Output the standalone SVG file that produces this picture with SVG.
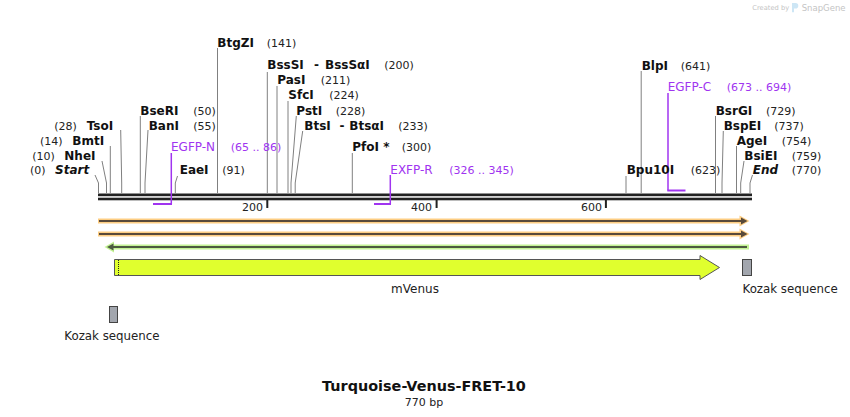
<svg xmlns="http://www.w3.org/2000/svg" width="850" height="417" viewBox="0 0 850 417">
<style>
text{font-family:"DejaVu Sans",Verdana,sans-serif;}
.en{font-size:12px;font-weight:bold;fill:#111;}
.it{font-style:italic;}
.num{font-size:11px;fill:#222;}
.pr{font-size:12px;fill:#a034f0;}
.prn{font-size:11px;fill:#a034f0;}
.cut{stroke:#808080;stroke-width:1;fill:none;}
.pline{stroke:#a034f0;fill:none;}
.lbl{font-size:12px;fill:#222;}
.bb{fill:#222;}
</style>
<rect width="850" height="417" fill="#fff"/>
<g id="watermark">
<text x="752.3" y="10" style="font-size:6.7px;fill:#c4c4c4">Created by</text>
<path d="M792,3 h3.5 a2.8,2.8 0 0 1 0,5.6 h-1.5 v3.6 h-2 z" fill="#cde6f5"/>
<text x="801.7" y="10.5" style="font-size:8.5px;fill:#c4c4c4">SnapGene</text>
</g>
<g id="backbone">
<rect class="bb" x="98" y="193.5" width="654" height="2.7"/>
<rect class="bb" x="98" y="197.7" width="654" height="2.6"/>
<rect class="bb" x="266.3" y="200" width="2" height="8"/>
<rect class="bb" x="435.6" y="200" width="2" height="8"/>
<rect class="bb" x="604.9" y="200" width="2" height="8"/>
<text class="num" x="263" y="210.5" text-anchor="end">200</text>
<text class="num" x="432" y="210.5" text-anchor="end">400</text>
<text class="num" x="602" y="210.5" text-anchor="end">600</text>
</g>
<g id="connectors">
<polyline class="cut" points="95,175 98.5,183 98.5,193"/>
<polyline class="cut" points="102,161 106.5,183 106.5,193"/>
<polyline class="cut" points="110.3,146 110.3,193"/>
<polyline class="cut" points="120.7,130 121.7,183 121.7,193"/>
<polyline class="cut" points="140.3,116 140.3,193"/>
<polyline class="cut" points="148,130 145,183 145,193"/>
<polyline class="cut" points="177.5,176 175.3,183 175.3,193"/>
<polyline class="cut" points="217.5,48 217.5,193"/>
<polyline class="cut" points="267.3,72 267.3,193"/>
<polyline class="cut" points="277,86 277,193"/>
<polyline class="cut" points="288,101 288,193"/>
<polyline class="cut" points="296.3,116 291,183 291,193"/>
<polyline class="cut" points="302.7,131 295.2,183 295.2,193"/>
<polyline class="cut" points="352.3,153 352.3,193"/>
<polyline class="cut" points="626,176 626,193"/>
<polyline class="cut" points="641.2,71 641.2,193"/>
<polyline class="cut" points="715.5,116 715.5,193"/>
<polyline class="cut" points="723.3,131 722,183 722,193"/>
<polyline class="cut" points="736.5,146 736.5,193"/>
<polyline class="cut" points="744,161 740.7,183 740.7,193"/>
<polyline class="cut" points="752.5,175 750,183 750,193"/>
<polyline class="pline" stroke-width="1.5" points="171.3,153 171.3,204"/>
<line class="pline" stroke-width="2" x1="153" y1="204" x2="172" y2="204"/>
<polyline class="pline" stroke-width="1.5" points="390.3,175 390.3,204"/>
<line class="pline" stroke-width="2" x1="374" y1="204" x2="391" y2="204"/>
<polyline class="pline" stroke-width="1.5" points="668,93 668,190.5"/>
<line class="pline" stroke-width="2" x1="667.3" y1="190.5" x2="685.5" y2="190.5"/>
</g>
<g id="site-labels">
<text class="num" x="30" y="174">(0)</text><text class="en it" x="55" y="174">Start</text>
<text class="num" x="32.3" y="159.5">(10)</text><text class="en" x="64.3" y="159.5">NheI</text>
<text class="num" x="40" y="144.5">(14)</text><text class="en" x="72.3" y="144.5">BmtI</text>
<text class="num" x="54.3" y="129.5">(28)</text><text class="en" x="86.7" y="129.5">TsoI</text>
<text class="en" x="140.3" y="114.5">BseRI</text><text class="num" x="193.3" y="114.5">(50)</text>
<text class="en" x="148.7" y="129.5">BanI</text><text class="num" x="193.3" y="129.5">(55)</text>
<text class="en" x="179.7" y="174">EaeI</text><text class="num" x="222.3" y="174">(91)</text>
<text class="en" x="217.3" y="46.5">BtgZI</text><text class="num" x="266.7" y="46.5">(141)</text>
<text class="en" x="267.3" y="69">BssSI</text><text class="en" x="314" y="69">-</text><text class="en" x="325" y="69">BssSαI</text><text class="num" x="384.3" y="69">(200)</text>
<text class="en" x="277.3" y="84">PasI</text><text class="num" x="320.7" y="84">(211)</text>
<text class="en" x="288.3" y="99">SfcI</text><text class="num" x="329.3" y="99">(224)</text>
<text class="en" x="296.3" y="114.5">PstI</text><text class="num" x="335.7" y="114.5">(228)</text>
<text class="en" x="304.3" y="129.5">BtsI</text><text class="en" x="339.5" y="129.5">-</text><text class="en" x="349.3" y="129.5">BtsαI</text><text class="num" x="398.3" y="129.5">(233)</text>
<text class="en" x="352.3" y="151">PfoI *</text><text class="num" x="401.7" y="151">(300)</text>
<text class="en" x="626.7" y="174">Bpu10I</text><text class="num" x="690.7" y="174">(623)</text>
<text class="en" x="641.7" y="69.5">BlpI</text><text class="num" x="680.7" y="69.5">(641)</text>
<text class="en" x="715.7" y="114.5">BsrGI</text><text class="num" x="766" y="114.5">(729)</text>
<text class="en" x="723.7" y="129.5">BspEI</text><text class="num" x="774.3" y="129.5">(737)</text>
<text class="en" x="736.7" y="144.5">AgeI</text><text class="num" x="781.7" y="144.5">(754)</text>
<text class="en" x="744.3" y="159.5">BsiEI</text><text class="num" x="791.7" y="159.5">(759)</text>
<text class="en it" x="752.7" y="174">End</text><text class="num" x="791.7" y="174">(770)</text>
</g>
<g id="primer-EGFP-N">
<text class="pr" x="171" y="151">EGFP-N</text><text class="prn" x="230.7" y="151">(65 .. 86)</text>
</g>
<g id="primer-EXFP-R">
<text class="pr" x="390.3" y="174">EXFP-R</text><text class="prn" x="449.3" y="174">(326 .. 345)</text>
</g>
<g id="primer-EGFP-C">
<text class="pr" x="667.7" y="91">EGFP-C</text><text class="prn" x="726.7" y="91">(673 .. 694)</text>
</g>
<g id="feature-orange-1">
<rect x="98" y="218.5" width="644" height="5" fill="#fdcd82"/>
<polygon points="739.5,215.5 749.5,221 739.5,226.5" fill="#fdcd82"/>
<line x1="99" y1="221" x2="742" y2="221" stroke="#594a3a" stroke-width="2"/>
<polygon points="741,217.5 747.5,221 741,224.5" fill="#594a3a"/>
</g>
<g id="feature-orange-2">
<rect x="98" y="231.5" width="644" height="5" fill="#fdcd82"/>
<polygon points="739.5,228.5 749.5,234 739.5,239.5" fill="#fdcd82"/>
<line x1="99" y1="234" x2="742" y2="234" stroke="#594a3a" stroke-width="2"/>
<polygon points="741,230.5 747.5,234 741,237.5" fill="#594a3a"/>
</g>
<g id="feature-green">
<rect x="111" y="244.5" width="638" height="5" fill="#c2f293"/>
<polygon points="114,241.5 104.5,247 114,252.5" fill="#c2f293"/>
<line x1="112" y1="247" x2="747" y2="247" stroke="#4c5a40" stroke-width="2"/>
<polygon points="113.5,243.5 107,247 113.5,250.5" fill="#4c5a40"/>
</g>
<g id="mVenus">
<polygon points="114.5,259.5 700,259.5 700,255.5 719.5,267.5 700,279.5 700,275.5 114.5,275.5" fill="#e0ff2e" stroke="#555" stroke-width="1"/>
<line x1="118.5" y1="260" x2="118.5" y2="275" stroke="#222" stroke-width="1" stroke-dasharray="1,1"/>
<text class="lbl" x="415" y="292.5" text-anchor="middle">mVenus</text>
</g>
<g id="kozak-right">
<rect x="742.5" y="259.5" width="9" height="16" fill="#a2a6ae" stroke="#444" stroke-width="1"/>
<text class="lbl" x="742.5" y="292.5" style="font-size:11.8px">Kozak sequence</text>
</g>
<g id="kozak-left">
<rect x="109.5" y="306.5" width="8" height="16" fill="#a2a6ae" stroke="#444" stroke-width="1"/>
<text class="lbl" x="64.3" y="340" style="font-size:11.8px">Kozak sequence</text>
</g>
<g id="title">
<text x="424" y="391" text-anchor="middle" style="font-size:14.4px;font-weight:bold;fill:#111">Turquoise-Venus-FRET-10</text>
<text x="424" y="406" text-anchor="middle" style="font-size:11px;fill:#222">770 bp</text>
</g>
</svg>
